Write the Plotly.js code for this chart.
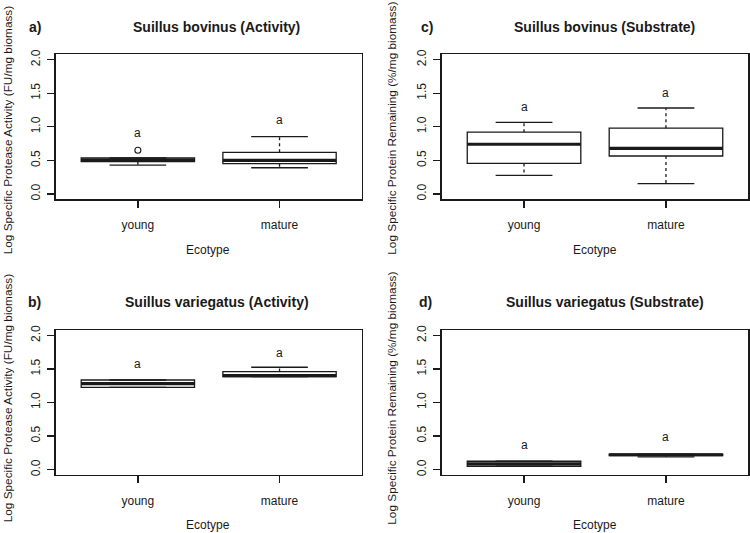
<!DOCTYPE html>
<html>
<head>
<meta charset="utf-8">
<script src="https://cdn.plot.ly/plotly-3.0.1.min.js"></script>
<style>html,body{margin:0;padding:0;background:#fff;}#chart{width:750px;height:533px;}</style>
</head>
<body>
<div id="chart"></div>
<script>
// ---- data ----
const ecotypes = ['young', 'mature'];
const yTicks = [0, 0.5, 1, 1.5, 2];

// a) Suillus bovinus (Activity)
const sbActLower  = [0.43, 0.39];
const sbActQ1     = [0.48, 0.45];
const sbActMedian = [0.505, 0.50];
const sbActQ3     = [0.535, 0.62];
const sbActUpper  = [0.535, 0.855];
const sbActOutlierGroup = [0];
const sbActOutlierY     = [0.65];
const sbActLetters  = ['a', 'a'];
const sbActLetterY  = [0.905, 1.10];

// c) Suillus bovinus (Substrate)
const sbSubLower  = [0.277, 0.154];
const sbSubQ1     = [0.455, 0.565];
const sbSubMedian = [0.74, 0.68];
const sbSubQ3     = [0.92, 0.98];
const sbSubUpper  = [1.065, 1.28];
const sbSubLetters = ['a', 'a'];
const sbSubLetterY = [1.30, 1.50];

// b) Suillus variegatus (Activity)
const svActLower  = [1.225, 1.385];
const svActQ1     = [1.225, 1.385];
const svActMedian = [1.28, 1.40];
const svActQ3     = [1.335, 1.46];
const svActUpper  = [1.335, 1.525];
const svActLetters = ['a', 'a'];
const svActLetterY = [1.58, 1.74];

// d) Suillus variegatus (Substrate)
const svSubLower  = [0.05, 0.19];
const svSubQ1     = [0.05, 0.21];
const svSubMedian = [0.085, 0.222];
const svSubQ3     = [0.125, 0.232];
const svSubUpper  = [0.125, 0.232];
const svSubLetters = ['a', 'a'];
const svSubLetterY = [0.37, 0.49];

// ---- styling ----
const INK = '#1a1a1a';
const FONT = 'Liberation Sans, Arial, Helvetica, sans-serif';
const BOXWEX = 0.8;
const idx = ecotypes.map((_, i) => i);

function panelTraces(ax, q1, med, q3, lo, up) {
  const xa = ax === 1 ? 'x' : 'x' + ax;
  const ya = ax === 1 ? 'y' : 'y' + ax;
  const traces = [];
  traces.push({
    type: 'box', x: idx, q1: q1, median: med, q3: q3,
    lowerfence: q1, upperfence: q3,
    width: BOXWEX, whiskerwidth: 0, boxpoints: false,
    fillcolor: '#ffffff', line: {color: INK, width: 1.3},
    xaxis: xa, yaxis: ya, showlegend: false, hoverinfo: 'skip'
  });
  // whiskers (dashed)
  const wx = [], wy = [];
  idx.forEach(i => {
    if (up[i] > q3[i]) { wx.push(i, i, null); wy.push(q3[i], up[i], null); }
    if (lo[i] < q1[i]) { wx.push(i, i, null); wy.push(q1[i], lo[i], null); }
  });
  traces.push({type: 'scatter', mode: 'lines', x: wx, y: wy,
    line: {color: INK, width: 1.3, dash: '3px,3px'},
    xaxis: xa, yaxis: ya, showlegend: false, hoverinfo: 'skip'});
  // staples
  const sx = [], sy = [];
  idx.forEach(i => {
    const h = BOXWEX / 4;
    sx.push(i - h, i + h, null); sy.push(up[i], up[i], null);
    sx.push(i - h, i + h, null); sy.push(lo[i], lo[i], null);
  });
  traces.push({type: 'scatter', mode: 'lines', x: sx, y: sy,
    line: {color: INK, width: 1.3},
    xaxis: xa, yaxis: ya, showlegend: false, hoverinfo: 'skip'});
  // medians (thick)
  const mx = [], my = [];
  idx.forEach(i => {
    const h = BOXWEX / 2;
    mx.push(i - h, i + h, null); my.push(med[i], med[i], null);
  });
  traces.push({type: 'scatter', mode: 'lines', x: mx, y: my,
    line: {color: INK, width: 3.2},
    xaxis: xa, yaxis: ya, showlegend: false, hoverinfo: 'skip'});
  return traces;
}

let data = [];
data = data.concat(panelTraces(1, sbActQ1, sbActMedian, sbActQ3, sbActLower, sbActUpper));
data = data.concat(panelTraces(2, sbSubQ1, sbSubMedian, sbSubQ3, sbSubLower, sbSubUpper));
data = data.concat(panelTraces(3, svActQ1, svActMedian, svActQ3, svActLower, svActUpper));
data = data.concat(panelTraces(4, svSubQ1, svSubMedian, svSubQ3, svSubLower, svSubUpper));
data.push({type: 'scatter', mode: 'markers', x: sbActOutlierGroup, y: sbActOutlierY,
  marker: {symbol: 'circle-open', size: 6, color: INK, line: {width: 1.1, color: INK}},
  xaxis: 'x', yaxis: 'y', showlegend: false, hoverinfo: 'skip'});

function xAxis(dom, anchor) {
  return {domain: dom, anchor: anchor, range: [-0.58, 1.58],
    tickvals: idx, ticktext: ecotypes, ticks: 'outside', ticklen: 7, tickwidth: 1.3,
    tickcolor: INK, ticklabelstandoff: 7,
    showline: true, mirror: true, linecolor: INK, linewidth: 1.3,
    showgrid: false, zeroline: false, tickfont: {family: FONT, size: 12, color: INK}};
}
function yAxis(dom, anchor) {
  return {domain: dom, anchor: anchor, range: [-0.08, 2.08],
    tickvals: yTicks, tickformat: '.1f', tickangle: -90, ticks: 'outside', ticklen: 7, tickwidth: 1.3,
    tickcolor: INK, ticklabelstandoff: 3,
    showline: true, mirror: true, linecolor: INK, linewidth: 1.3,
    showgrid: false, zeroline: false, tickfont: {family: FONT, size: 12, color: INK}};
}

const W = 750, H = 533;
const px = v => v / W, py = v => 1 - v / H;
const colL = [px(55.7), px(361.7)], colR = [px(441.7), px(748.3)];
const rowT = [py(199.3), py(54.3)], rowB = [py(475), py(330)];

const annotations = [];
function letterAnns(ax, letters, ys) {
  const xa = ax === 1 ? 'x' : 'x' + ax;
  const ya = ax === 1 ? 'y' : 'y' + ax;
  idx.forEach(i => annotations.push({xref: xa, yref: ya, x: i, y: ys[i], text: letters[i],
    showarrow: false, xanchor: 'center', yanchor: 'middle', font: {family: FONT, size: 12, color: INK}}));
}
letterAnns(1, sbActLetters, sbActLetterY);
letterAnns(2, sbSubLetters, sbSubLetterY);
letterAnns(3, svActLetters, svActLetterY);
letterAnns(4, svSubLetters, svSubLetterY);

function txt(x, y, text, opts) {
  annotations.push(Object.assign({xref: 'paper', yref: 'paper', x: px(x), y: py(y), text: text,
    showarrow: false, xanchor: 'center', yanchor: 'middle', borderpad: 0,
    font: {family: FONT, size: 12, color: INK}}, opts || {}));
}
const bold = {family: FONT, size: 14, color: INK, weight: 'bold'};
const ytf = {family: FONT, size: 11.8, color: INK};
txt(216.8, 26.7, '<b>Suillus bovinus (Activity)</b>', {font: bold});
txt(604, 26.7, '<b>Suillus bovinus (Substrate)</b>', {font: bold});
txt(217, 302, '<b>Suillus variegatus (Activity)</b>', {font: bold});
txt(604.7, 302, '<b>Suillus variegatus (Substrate)</b>', {font: bold});
txt(28, 26.7, '<b>a)</b>', {font: bold, xanchor: 'left'});
txt(420, 26.7, '<b>c)</b>', {font: bold, xanchor: 'left'});
txt(27.3, 302, '<b>b)</b>', {font: bold, xanchor: 'left'});
txt(418.3, 302, '<b>d)</b>', {font: bold, xanchor: 'left'});
txt(208.3, 250, 'Ecotype');
txt(595, 250, 'Ecotype');
txt(208.3, 525.3, 'Ecotype');
txt(595, 525.3, 'Ecotype');
txt(8.3, 130, 'Log Specific Protease Activity (FU/mg biomass)', {textangle: -90, font: ytf});
txt(391.7, 128, 'Log Specific Protein Remaining (%/mg biomass)', {textangle: -90, font: ytf});
txt(8.3, 398, 'Log Specific Protease Activity (FU/mg biomass)', {textangle: -90, font: ytf});
txt(391.7, 398, 'Log Specific Protein Remaining (%/mg biomass)', {textangle: -90, font: ytf});

const layout = {
  width: W, height: H, margin: {l: 0, r: 0, t: 0, b: 0},
  paper_bgcolor: '#ffffff', plot_bgcolor: '#ffffff',
  font: {family: FONT, size: 12, color: INK},
  showlegend: false,
  xaxis: xAxis(colL, 'y'), yaxis: yAxis(rowT, 'x'),
  xaxis2: xAxis(colR, 'y2'), yaxis2: yAxis(rowT, 'x2'),
  xaxis3: xAxis(colL, 'y3'), yaxis3: yAxis(rowB, 'x3'),
  xaxis4: xAxis(colR, 'y4'), yaxis4: yAxis(rowB, 'x4'),
  annotations: annotations
};

Plotly.newPlot('chart', data, layout, {staticPlot: true, displayModeBar: false});
</script>
</body>
</html>
